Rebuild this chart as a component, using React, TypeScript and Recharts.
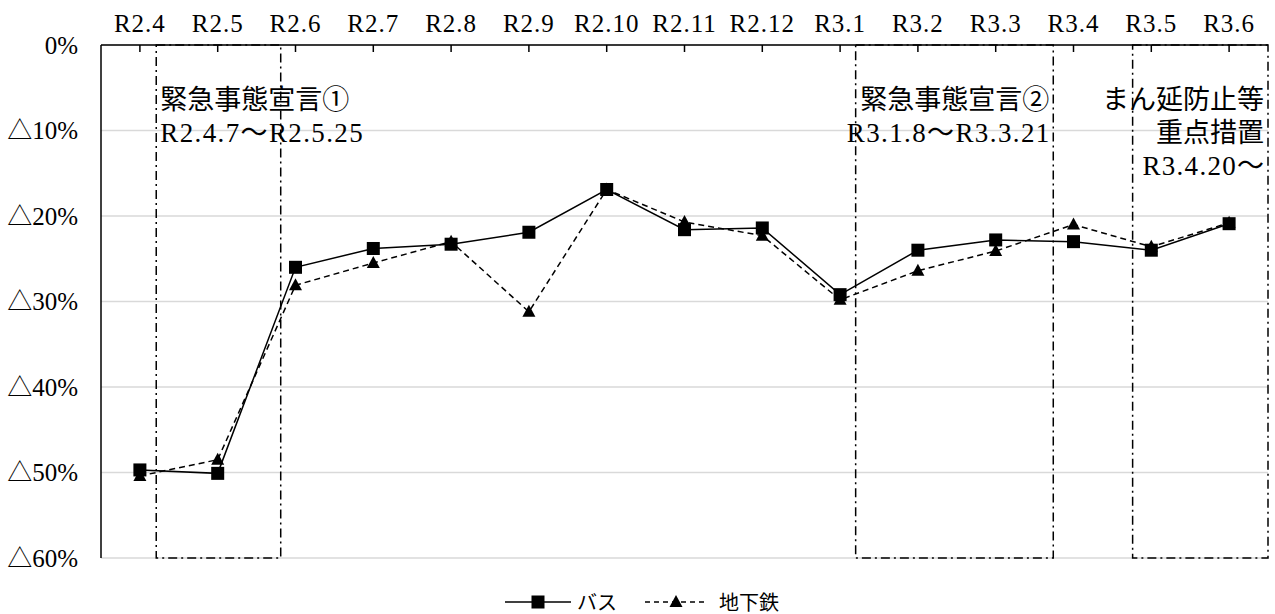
import React from "react";
import {
  CartesianGrid,
  Legend,
  Line,
  LineChart,
  ReferenceArea,
  XAxis,
  YAxis,
} from "recharts";

const months = [
  "R2.4", "R2.5", "R2.6", "R2.7", "R2.8", "R2.9", "R2.10", "R2.11",
  "R2.12", "R3.1", "R3.2", "R3.3", "R3.4", "R3.5", "R3.6",
];
// 前年同月比（%）
const busValues = [
  -49.7, -50.1, -26.0, -23.8, -23.3, -21.9, -16.9, -21.6,
  -21.4, -29.2, -24.0, -22.8, -23.0, -24.0, -20.9,
];
const subwayValues = [
  -50.4, -48.5, -28.1, -25.5, -23.0, -31.2, -16.9, -20.7,
  -22.3, -29.8, -26.4, -24.1, -21.0, -23.6, -20.8,
];
const yTicks = [-60, -50, -40, -30, -20, -10, 0];

// 期間（月の位置で表す。0 = R2.4）
const periodStarts = [0.21, 9.2, 12.76];
const periodEnds = [1.81, 11.74, 14.5];
const periodTexts = [
  ["緊急事態宣言①", "R2.4.7～R2.5.25"],
  ["緊急事態宣言②", "R3.1.8～R3.3.21"],
  ["まん延防止等", "重点措置", "R3.4.20～"],
];

const data = months.map((month, i) => ({
  idx: i,
  month,
  bus: busValues[i],
  subway: subwayValues[i],
}));

const serif = "'Liberation Serif', 'Noto Sans CJK JP', serif";
const jp = "'Noto Sans CJK JP', sans-serif";
const annoFont = "'Liberation Serif', 'Noto Sans CJK JP', serif";
const ANNO_SIZE = 27;

const textWidth = (s: string) =>
  Array.from(s).reduce((w, c) => w + (c.charCodeAt(0) < 0x100 ? 0.5 : 1), 0) *
  ANNO_SIZE;

const SquareDot = (props: any) => {
  const { cx, cy, index } = props;
  if (cx == null || cy == null) return null;
  return <rect key={`sq-${index}`} x={cx - 6.5} y={cy - 6.5} width={13} height={13} fill="#000" />;
};

const TriangleDot = (props: any) => {
  const { cx, cy, index } = props;
  if (cx == null || cy == null) return null;
  return (
    <polygon
      key={`tr-${index}`}
      points={`${cx},${cy - 7} ${cx - 6.5},${cy + 5} ${cx + 6.5},${cy + 5}`}
      fill="#000"
    />
  );
};

const PeriodLabel = ({ viewBox, lines, anchorEnd }: any) => {
  if (!viewBox) return null;
  const { x, y, width } = viewBox;
  const tx = anchorEnd ? x + width - 4 : x + 4;
  return (
    <g>
      {lines.map((t: string, i: number) => (
        <text
          key={t}
          x={tx}
          y={y + 55 + i * 33}
          textAnchor={anchorEnd ? "end" : "start"}
          dominantBaseline="central"
          fontSize={ANNO_SIZE}
          fontFamily={annoFont}
          fill="#000"
          textLength={textWidth(t)}
          lengthAdjust="spacing"
        >
          {t}
        </text>
      ))}
    </g>
  );
};

const LegendContent = () => (
  <div
    style={{
      height: 56,
      boxSizing: "border-box",
      paddingTop: 32,
      paddingLeft: 16,
      display: "flex",
      justifyContent: "center",
      alignItems: "center",
      fontFamily: jp,
      fontSize: 20,
      color: "#000",
    }}
  >
    <svg width={66} height={20}>
      <line x1={0} y1={10} x2={66} y2={10} stroke="#000" strokeWidth={1.5} />
      <rect x={26.5} y={3.5} width={13} height={13} fill="#000" />
    </svg>
    <span style={{ marginLeft: 6, lineHeight: "24px" }}>バス</span>
    <svg width={62} height={20} style={{ marginLeft: 28 }}>
      <line x1={0} y1={10} x2={62} y2={10} stroke="#000" strokeWidth={1.5} strokeDasharray="5 4" />
      <polygon points="31,3 24.5,15 37.5,15" fill="#000" />
    </svg>
    <span style={{ marginLeft: 12, lineHeight: "24px" }}>地下鉄</span>
  </div>
);

export default function App() {
  return (
    <div style={{ position: "absolute", left: 0, top: 0, background: "#fff" }}>
      <LineChart
        width={1275}
        height={614}
        data={data}
        margin={{ top: 0, right: 7, bottom: 0, left: 0 }}
      >
        <CartesianGrid vertical={false} stroke="#d9d9d9" strokeWidth={1.5} />
        <XAxis
          type="number"
          dataKey="idx"
          orientation="top"
          domain={[-0.5, 14.5]}
          ticks={months.map((_, i) => i)}
          tickFormatter={(i: number) => months[i]}
          interval={0}
          height={45}
          axisLine={{ stroke: "#000", strokeWidth: 1.5 }}
          tickLine={{ stroke: "#000", strokeWidth: 1.5 }}
          tickSize={-7}
          tickMargin={20}
          tick={{ fill: "#000", fontSize: 25, fontFamily: serif, letterSpacing: 1 }}
        />
        <YAxis
          domain={[-60, 0]}
          ticks={yTicks}
          tickFormatter={(v: number) => (v === 0 ? "0%" : `△${Math.abs(v)}%`)}
          width={101}
          axisLine={{ stroke: "#000", strokeWidth: 1.5 }}
          tickLine={false}
          tickSize={0}
          tickMargin={23}
          tick={{ fill: "#000", fontSize: 25, fontFamily: serif }}
        />
        {periodTexts.map((lines, i) => (
          <ReferenceArea
            key={lines[0]}
            x1={periodStarts[i]}
            x2={periodEnds[i]}
            y1={-60}
            y2={0}
            fill="none"
            stroke="#000"
            strokeWidth={1.5}
            strokeDasharray="9 4 2 4"
            ifOverflow="visible"
            label={(p: any) => <PeriodLabel viewBox={p.viewBox} lines={lines} anchorEnd={i > 0} />}
          />
        ))}
        <Line
          dataKey="subway"
          name="地下鉄"
          stroke="#000"
          strokeWidth={1.5}
          strokeDasharray="6 4"
          dot={TriangleDot}
          activeDot={false}
          isAnimationActive={false}
        />
        <Line
          dataKey="bus"
          name="バス"
          stroke="#000"
          strokeWidth={1.5}
          dot={SquareDot}
          activeDot={false}
          isAnimationActive={false}
        />
        <Legend verticalAlign="bottom" align="center" content={LegendContent} />
      </LineChart>
    </div>
  );
}
